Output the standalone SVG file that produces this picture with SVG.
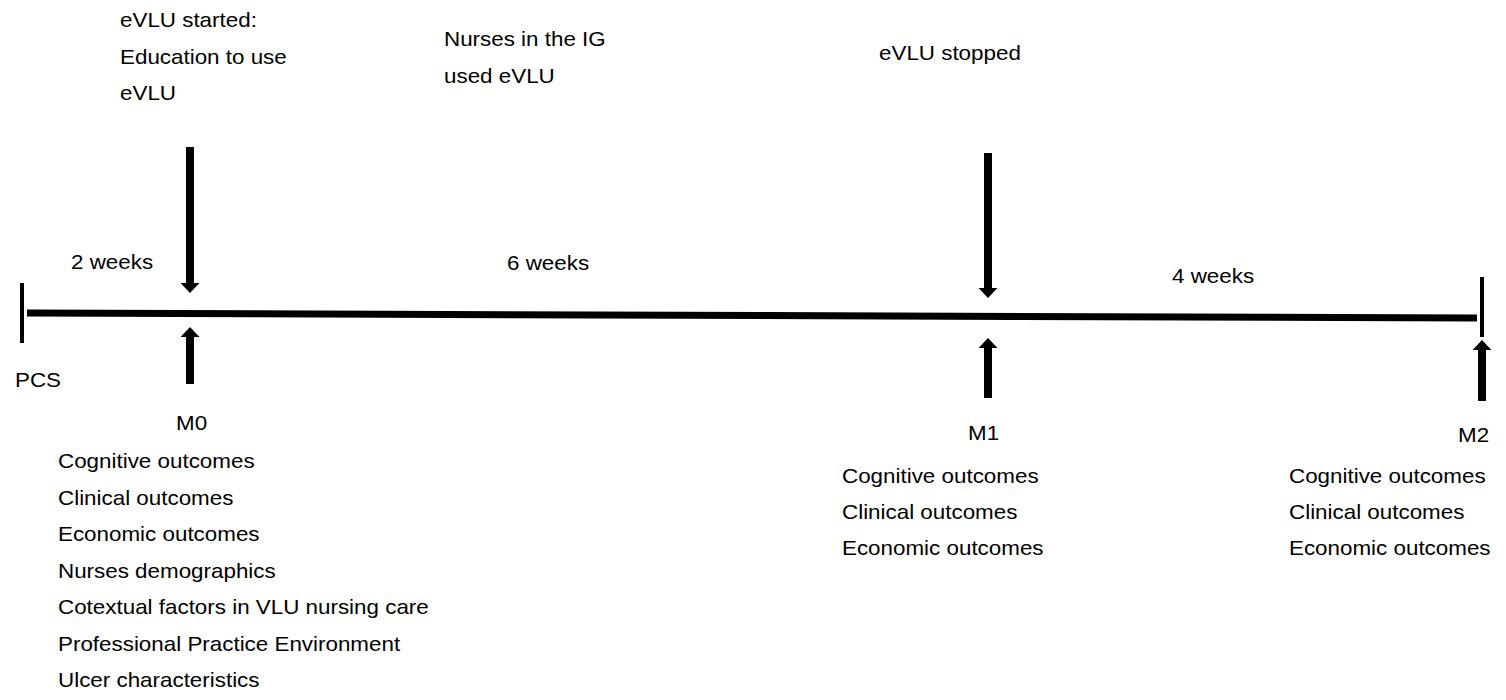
<svg xmlns="http://www.w3.org/2000/svg" width="1506" height="700" viewBox="0 0 1506 700">
<style>
.t{font-family:"Liberation Sans",Arial,Helvetica,sans-serif;font-size:20px;fill:#000}
.shaft{stroke:#000;stroke-width:8;fill:none;marker-end:url(#head)}
.tick{stroke:#000;stroke-width:4}
.axis{stroke:#000;stroke-width:7}
</style>
<defs>
<marker id="head" markerUnits="userSpaceOnUse" viewBox="0 0 10 19" markerWidth="10" markerHeight="19" refX="0" refY="9.5" orient="auto">
<path d="M0,0 L10,9.5 L0,19 z" fill="#000"/>
</marker>
</defs>
<rect width="1506" height="700" fill="#fff"/>
<g id="connectors">
<line class="axis" x1="27" y1="313" x2="1477" y2="318"/>
<line class="tick" x1="22" y1="283" x2="22" y2="343"/>
<line class="tick" x1="1482" y1="277" x2="1482" y2="337"/>
<line class="shaft" x1="190" y1="147" x2="190" y2="283"/>
<line class="shaft" x1="190" y1="384" x2="190" y2="337"/>
<line class="shaft" x1="988" y1="153" x2="988" y2="288"/>
<line class="shaft" x1="988" y1="398" x2="988" y2="348"/>
<line class="shaft" x1="1482" y1="401" x2="1482" y2="350"/>
</g>
<g id="top-labels">
<text class="t" transform="translate(120 27) scale(1.12 1)">eVLU started:</text>
<text class="t" transform="translate(120 63.5) scale(1.12 1)">Education to use</text>
<text class="t" transform="translate(120 100) scale(1.12 1)">eVLU</text>
<text class="t" transform="translate(444 46) scale(1.12 1)">Nurses in the IG</text>
<text class="t" transform="translate(444 83) scale(1.12 1)">used eVLU</text>
<text class="t" transform="translate(879 60) scale(1.12 1)">eVLU stopped</text>
</g>
<g id="durations">
<text class="t" transform="translate(71 269) scale(1.12 1)">2 weeks</text>
<text class="t" transform="translate(507 270) scale(1.12 1)">6 weeks</text>
<text class="t" transform="translate(1172 283) scale(1.12 1)">4 weeks</text>
</g>
<g id="PCS">
<text class="t" transform="translate(15 387) scale(1.12 1)">PCS</text>
</g>
<g id="M0">
<text class="t" transform="translate(176 430) scale(1.12 1)">M0</text>
<text class="t" transform="translate(58 468) scale(1.12 1)">Cognitive outcomes</text>
<text class="t" transform="translate(58 505) scale(1.12 1)">Clinical outcomes</text>
<text class="t" transform="translate(58 541) scale(1.12 1)">Economic outcomes</text>
<text class="t" transform="translate(58 578) scale(1.12 1)">Nurses demographics</text>
<text class="t" transform="translate(58 614) scale(1.12 1)">Cotextual factors in VLU nursing care</text>
<text class="t" transform="translate(58 651) scale(1.12 1)">Professional Practice Environment</text>
<text class="t" transform="translate(58 687) scale(1.12 1)">Ulcer characteristics</text>
</g>
<g id="M1">
<text class="t" transform="translate(968 440) scale(1.12 1)">M1</text>
<text class="t" transform="translate(842 483) scale(1.12 1)">Cognitive outcomes</text>
<text class="t" transform="translate(842 519) scale(1.12 1)">Clinical outcomes</text>
<text class="t" transform="translate(842 555) scale(1.12 1)">Economic outcomes</text>
</g>
<g id="M2">
<text class="t" transform="translate(1458 442) scale(1.12 1)">M2</text>
<text class="t" transform="translate(1289 483) scale(1.12 1)">Cognitive outcomes</text>
<text class="t" transform="translate(1289 519) scale(1.12 1)">Clinical outcomes</text>
<text class="t" transform="translate(1289 555) scale(1.12 1)">Economic outcomes</text>
</g>
</svg>
